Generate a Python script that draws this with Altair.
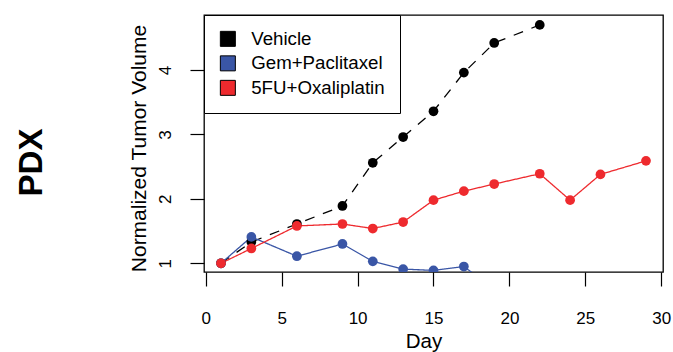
import altair as alt
import pandas as pd

series_names = ["Vehicle", "Gem+Paclitaxel", "5FU+Oxaliplatin"]
series_colors = ["#000000", "#3A56A6", "#EE2A2E"]

vehicle_days = [1, 3, 6, 9, 11, 13, 15, 17, 19, 22]
vehicle_vals = [1.00, 1.33, 1.61, 1.89, 2.56, 2.96, 3.36, 3.96, 4.42, 4.70]

gem_days = [1, 3, 6, 9, 11, 13, 15, 17, 19]
gem_vals = [1.00, 1.41, 1.11, 1.30, 1.03, 0.91, 0.89, 0.95, 0.60]

fu_days = [1, 3, 6, 9, 11, 13, 15, 17, 19, 22, 24, 26, 29]
fu_vals = [1.00, 1.23, 1.58, 1.61, 1.54, 1.64, 1.98, 2.12, 2.23, 2.39, 1.98, 2.38, 2.59]

x_ticks = [0, 5, 10, 15, 20, 25, 30]
y_ticks = [1, 2, 3, 4]

rows = []
for i, (name, days, vals) in enumerate([(series_names[0], vehicle_days, vehicle_vals),
                                        (series_names[1], gem_days, gem_vals),
                                        (series_names[2], fu_days, fu_vals)]):
    for d, v in zip(days, vals):
        rows.append({"Day": d, "Value": v, "Series": name, "k": i})
df = pd.DataFrame(rows)

FONT = "Liberation Sans"

xenc = alt.X("Day:Q",
             scale=alt.Scale(domain=[-0.12, 30.12], nice=False, zero=False),
             axis=alt.Axis(values=x_ticks, title="Day", grid=False, domain=False,
                           tickSize=14, tickColor="black", tickWidth=1.2,
                           labelFont=FONT, labelFontSize=17, labelColor="black",
                           labelPadding=24, labelFlush=False, labelOverlap=False,
                           titleFont=FONT, titleFontSize=20.5, titleFontWeight="normal",
                           titleColor="black", titleX=219.5, titleY=75.3,
                           titleBaseline="alphabetic", titleAlign="center"))
yenc = alt.Y("Value:Q",
             scale=alt.Scale(domain=[0.865, 4.854], nice=False, zero=False),
             axis=alt.Axis(values=y_ticks, title="Normalized Tumor Volume", grid=False,
                           domain=False, tickSize=14, tickColor="black", tickWidth=1.2,
                           labelFont=FONT, labelFontSize=17, labelColor="black",
                           labelAngle=270, labelAlign="center", labelBaseline="alphabetic",
                           labelPadding=20, labelFlush=False, labelOverlap=False,
                           titleFont=FONT, titleFontSize=21, titleFontWeight="normal",
                           titleColor="black", titleAngle=270, titleX=-58.3, titleY=133,
                           titleBaseline="alphabetic", titleAlign="center"))

color_scale = alt.Scale(domain=series_names, range=series_colors)
dash_scale = alt.Scale(domain=series_names, range=[[10, 9], [1, 0], [1, 0]])

lines = alt.Chart(df).mark_line(strokeWidth=1.3, clip=True).encode(
    x=xenc, y=yenc,
    color=alt.Color("Series:N", scale=color_scale, legend=None),
    strokeDash=alt.StrokeDash("Series:N", scale=dash_scale, legend=None),
    detail="Series:N",
)

points = alt.Chart(df).mark_point(filled=True, size=95, opacity=1, clip=True).encode(
    x=xenc, y=yenc,
    color=alt.Color("Series:N", scale=color_scale,
                    legend=alt.Legend(title=None, orient="none", legendX=0, legendY=0,
                                      symbolType="square", symbolSize=225,
                                      symbolStrokeColor="black", symbolStrokeWidth=1,
                                      symbolOpacity=1,
                                      labelFont=FONT, labelFontSize=18.7, labelColor="black",
                                      labelOffset=14, rowPadding=3.5, padding=14.5,
                                      strokeColor="black", fillColor="white",
                                      cornerRadius=0)),
    order=alt.Order("k:Q"),
)

pdx = alt.Chart(alt.Data(values=[{"t": "PDX"}])).mark_text(
    angle=270, align="center", baseline="alphabetic", font=FONT,
    fontSize=33, fontWeight="bold", color="black"
).encode(text="t:N", x=alt.value(-162), y=alt.value(147.5))

chart = alt.layer(lines, points, pdx).resolve_legend(
    color="independent", strokeDash="independent"
).properties(
    width=459, height=257,
    autosize=alt.AutoSizeParams(type="none"),
    padding={"left": 204, "top": 15, "right": 10, "bottom": 80},
).configure(background="white").configure_view(stroke="black", strokeWidth=1.3)

chart.save("out.html", embed_options={"renderer": "svg", "actions": False})
